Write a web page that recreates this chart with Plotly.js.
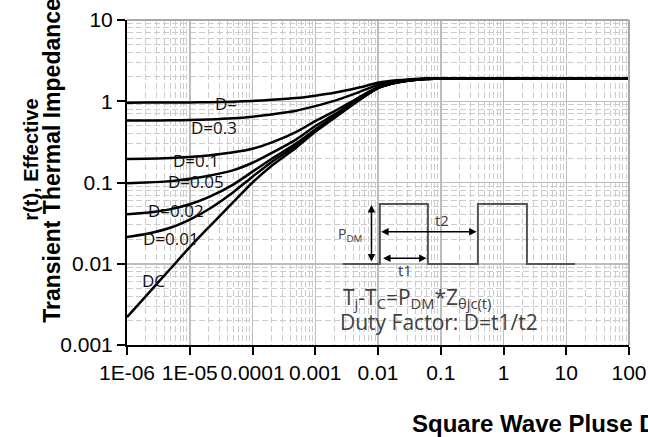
<!DOCTYPE html>
<html>
<head>
<meta charset="utf-8">
<script src="https://cdn.plot.ly/plotly-3.0.1.min.js"></script>
<style>html,body{margin:0;padding:0;overflow:hidden;background:#fff}#chart{width:648px;height:437px}</style>
</head>
<body>
<div id="chart"></div>
<script>
// Pulse duration (s)
const pulseTime = [1e-6, 2e-6, 5e-6, 1e-5, 2e-5, 5e-5, 1e-4, 2e-4, 5e-4, 1e-3, 2e-3, 5e-3, 1e-2, 2e-2, 5e-2, 1e-1, 1, 10, 100];
// r(t) per duty factor
const rD050 = [0.961, 0.962, 0.964, 0.968, 0.974, 0.989, 1.01, 1.04, 1.095, 1.17, 1.27, 1.475, 1.685, 1.81, 1.895, 1.915, 1.92, 1.92, 1.92];
const rD030 = [0.578, 0.579, 0.582, 0.587, 0.596, 0.617, 0.646, 0.688, 0.765, 0.87, 1.01, 1.297, 1.591, 1.766, 1.885, 1.913, 1.92, 1.92, 1.92];
const rD010 = [0.194, 0.196, 0.200, 0.206, 0.215, 0.235, 0.26, 0.31, 0.42, 0.57, 0.75, 1.119, 1.497, 1.722, 1.875, 1.911, 1.92, 1.92, 1.92];
const rD005 = [0.098, 0.0998, 0.104, 0.111, 0.121, 0.142, 0.175, 0.23, 0.34, 0.495, 0.685, 1.074, 1.474, 1.711, 1.873, 1.91, 1.92, 1.92, 1.92];
const rD002 = [0.0406, 0.0423, 0.047, 0.054, 0.066, 0.095, 0.136, 0.195, 0.303, 0.45, 0.646, 1.048, 1.459, 1.705, 1.871, 1.91, 1.92, 1.92, 1.92];
const rD001 = [0.0214, 0.0232, 0.0279, 0.0350, 0.0469, 0.0766, 0.118, 0.178, 0.287, 0.435, 0.633, 1.039, 1.455, 1.702, 1.87, 1.91, 1.92, 1.92, 1.92];
const rDC   = [0.0022, 0.0040, 0.0088, 0.016, 0.028, 0.058, 0.10, 0.16, 0.27, 0.42, 0.62, 1.03, 1.45, 1.70, 1.87, 1.91, 1.92, 1.92, 1.92];

const seriesNames = ['D=', 'D=0.3', 'D=0.1', 'D=0.05', 'D=0.02', 'D=0.01', 'DC'];
const seriesValues = [rD050, rD030, rD010, rD005, rD002, rD001, rDC];

const xTickVals = [1e-6, 1e-5, 1e-4, 1e-3, 1e-2, 1e-1, 1, 10, 100];
const xTickText = ['1E-06', '1E-05', '0.0001', '0.001', '0.01', '0.1', '1', '10', '100'];
const yTickVals = [0.001, 0.01, 0.1, 1, 10];
const yTickText = ['0.001', '0.01', '0.1', '1', '10'];

const traces = seriesValues.map((v, i) => ({
  x: pulseTime, y: v, name: seriesNames[i], type: 'scatter', mode: 'lines',
  line: {color: '#000', width: 2.5, shape: 'spline', smoothing: 0.6},
  hoverinfo: 'skip', showlegend: false
}));

// curve labels (paper positions)
const labelPos = [[0.198, 0.744], [0.173, 0.670], [0.138, 0.569], [0.137, 0.503], [0.097, 0.413], [0.0885, 0.328], [0.052, 0.200]];
const lblFont = {family: 'Open Sans, Noto Sans, sans-serif', size: 17, color: '#111'};
const annotations = seriesNames.map((n, i) => ({
  xref: 'paper', yref: 'paper', x: labelPos[i][0], y: labelPos[i][1], text: n,
  showarrow: false, font: lblFont, xanchor: 'center', yanchor: 'middle'
}));

const inFont = {family: 'Open Sans, Noto Sans, sans-serif', size: 21, color: '#404040'};
annotations.push(
  {xref:'paper', yref:'paper', x:0.426, y:0.1446, xanchor:'left', yanchor:'middle', showarrow:false,
   text:'T<sub>j</sub>-T<sub>C</sub>=P<sub>DM</sub>*Z<sub>θjc(t)</sub>', font: inFont},
  {xref:'paper', yref:'paper', x:0.420, y:0.0708, xanchor:'left', yanchor:'middle', showarrow:false,
   text:'Duty Factor: D=t1/t2', font: inFont},
  {xref:'paper', yref:'paper', x:0.4439, y:0.3385, xanchor:'center', yanchor:'middle', showarrow:false,
   text:'P<sub>DM</sub>', font:{family:'Open Sans, sans-serif', size:14, color:'#404040'}},
  {xref:'paper', yref:'paper', x:0.6267, y:0.3846, xanchor:'center', yanchor:'middle', showarrow:false,
   text:'t2', font:{family:'Open Sans, sans-serif', size:15, color:'#404040'}},
  {xref:'paper', yref:'paper', x:0.5535, y:0.2308, xanchor:'center', yanchor:'middle', showarrow:false,
   text:'t1', font:{family:'Open Sans, sans-serif', size:15, color:'#404040'}},
  // arrows (double headed)
  {xref:'paper', yref:'paper', x:0.487, y:0.4308, ax:0, ay:58, text:'', showarrow:true, arrowside:'end+start',
   arrowhead:2, startarrowhead:2, arrowsize:1, startarrowsize:1, arrowwidth:1.5, arrowcolor:'#000', standoff:0, startstandoff:0},
  {xref:'paper', yref:'paper', x:0.6965, y:0.3486, ax:-97, ay:0, text:'', showarrow:true, arrowside:'end+start',
   arrowhead:2, startarrowhead:2, arrowsize:1, startarrowsize:1, arrowwidth:1.5, arrowcolor:'#000', standoff:0, startstandoff:0},
  {xref:'paper', yref:'paper', x:0.5968, y:0.2668, ax:-45, ay:0, text:'', showarrow:true, arrowside:'end+start',
   arrowhead:2, startarrowhead:2, arrowsize:1, startarrowsize:1, arrowwidth:1.5, arrowcolor:'#000', standoff:0, startstandoff:0},
  // axis titles
  {xref:'paper', yref:'paper', x:-0.192, y:0.569, xanchor:'center', yanchor:'middle', textangle:-90, showarrow:false,
   text:'<b>r(t), Effective</b>',
   font:{family:'Liberation Sans, Arial, sans-serif', size:20, color:'#000'}},
  {xref:'paper', yref:'paper', x:-0.150, y:0.569, xanchor:'center', yanchor:'middle', textangle:-90, showarrow:false,
   text:'<b>Transient Thermal Impedance</b>',
   font:{family:'Liberation Sans, Arial, sans-serif', size:23, color:'#000'}},
  {xref:'paper', yref:'paper', x:0.5635, y:-0.243, xanchor:'left', yanchor:'middle', showarrow:false,
   text:'<b>Square Wave Pluse Duration(sec)</b>',
   font:{family:'Liberation Sans, Arial, sans-serif', size:24, color:'#000'}}
);

const pulsePath = 'M0.4298,0.2492 L0.5037,0.2492 L0.5037,0.4338 L0.5994,0.4338 L0.5994,0.2492 L0.6990,0.2492 L0.6990,0.4338 L0.7967,0.4338 L0.7967,0.2492 L0.8924,0.2492';

const shapes = [
  {type:'rect', xref:'paper', yref:'paper', x0:0.414, x1:0.896, y0:0.206, y1:0.455, fillcolor:'#fff', line:{width:0}, layer:'between'},
  {type:'path', xref:'paper', yref:'paper', path: pulsePath, line:{color:'#555', width:2}, layer:'above'},
  {type:'line', xref:'paper', yref:'paper', x0:0, x1:1, y0:1, y1:1, line:{color:'#a8a8a8', width:2}, layer:'above'},
  {type:'line', xref:'paper', yref:'paper', x0:1, x1:1, y0:0, y1:1, line:{color:'#a8a8a8', width:2}, layer:'above'}
];

const tickFont = {family: 'Liberation Sans, Arial, sans-serif', size: 21, color: '#000'};
const layout = {
  width: 648, height: 437,
  margin: {l: 127, r: 19, t: 20, b: 92, pad: 0},
  paper_bgcolor: '#fff', plot_bgcolor: '#fff',
  showlegend: false,
  xaxis: {
    type: 'log', range: [-6, 2], tickvals: xTickVals, ticktext: xTickText,
    showline: true, linecolor: '#000', linewidth: 2, ticks: 'outside', ticklen: 8, tickwidth: 2, tickcolor: '#000',
    tickfont: tickFont, showgrid: true, gridcolor: '#bdbdbd', gridwidth: 1.5, zeroline: false,
    minor: {dtick: 'D1', showgrid: true, gridcolor: '#cccccc', gridwidth: 1, griddash: '6px,3px', ticks: ''}
  },
  yaxis: {
    type: 'log', range: [-3, 1], tickvals: yTickVals, ticktext: yTickText,
    showline: true, linecolor: '#000', linewidth: 2, ticks: 'outside', ticklen: 8, tickwidth: 2, tickcolor: '#000',
    tickfont: tickFont, showgrid: true, gridcolor: '#bdbdbd', gridwidth: 1.5, zeroline: false,
    minor: {dtick: 'D1', showgrid: true, gridcolor: '#cccccc', gridwidth: 1, griddash: '6px,3px', ticks: ''}
  },
  annotations: annotations,
  shapes: shapes
};

Plotly.newPlot('chart', traces, layout, {displayModeBar: false, staticPlot: true});
</script>
</body>
</html>
